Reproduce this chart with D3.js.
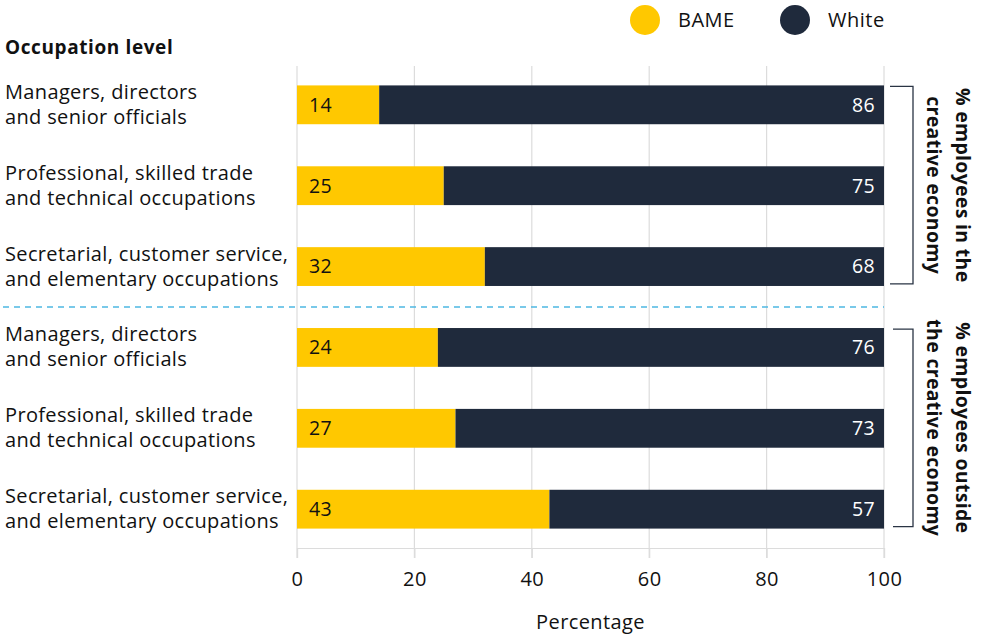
<!DOCTYPE html>
<html>
<head>
<meta charset="utf-8">
<script src="https://cdn.jsdelivr.net/npm/d3@7/dist/d3.min.js"></script>
<style>
  html, body { margin: 0; padding: 0; background: #fff; }
  svg text { font-family: "Open Sans", Lato, sans-serif; }
</style>
</head>
<body>
<svg id="chart" width="985" height="635"></svg>
<script>
// Occupation levels (two groups of three), with line-broken labels
const categories = [
  ["Managers, directors", "and senior officials"],
  ["Professional, skilled trade", "and technical occupations"],
  ["Secretarial, customer service,", "and elementary occupations"],
  ["Managers, directors", "and senior officials"],
  ["Professional, skilled trade", "and technical occupations"],
  ["Secretarial, customer service,", "and elementary occupations"]
];
const bameValues  = [14, 25, 32, 24, 27, 43];
const whiteValues = [86, 75, 68, 76, 73, 57];
const xTicks = [0, 20, 40, 60, 80, 100];
const seriesNames = ["BAME", "White"];
const groupLabels = [
  ["% employees in the", "creative economy"],
  ["% employees outside", "the creative economy"]
];

const FONT = "'Open Sans', Lato, sans-serif";
const colors = { BAME: "#FFC800", White: "#1F2A3C" };
const svg = d3.select("#chart");

const margin = { left: 297, right: 101, top: 66, bottom: 87 };
const W = 985, H = 635;
const x = d3.scaleLinear().domain([0, 100]).range([margin.left, W - margin.right]);
const y = d3.scaleBand().domain(d3.range(categories.length))
  .range([margin.top, H - margin.bottom]).paddingInner(0.52).paddingOuter(0.24);

// vertical gridlines
svg.append("g").selectAll("line").data(xTicks).join("line")
  .attr("x1", d => x(d)).attr("x2", d => x(d))
  .attr("y1", margin.top).attr("y2", H - margin.bottom + 10)
  .attr("stroke", "#dcdcdc").attr("stroke-width", 1.2);

// bottom axis
const xAxis = svg.append("g")
  .attr("transform", `translate(0,${H - margin.bottom})`)
  .call(d3.axisBottom(x).tickValues(xTicks).tickSize(10).tickPadding(14));
xAxis.select(".domain").attr("stroke", "#dcdcdc").attr("stroke-width", 1.2);
xAxis.selectAll(".tick line").attr("stroke", "#dcdcdc").attr("stroke-width", 1.2);
xAxis.selectAll(".tick text").attr("font-size", 20).attr("fill", "#111")
  .attr("font-family", FONT).attr("letter-spacing", 0.4);

svg.append("text").attr("x", x(50)).attr("y", 629).attr("text-anchor", "middle")
  .attr("font-size", 20).attr("letter-spacing", 0.4).attr("fill", "#111").text("Percentage");

// stacked bars
const rows = categories.map((c, i) => ({ i, bame: bameValues[i], white: whiteValues[i] }));
const bars = svg.append("g");
bars.selectAll("rect.bame").data(rows).join("rect").attr("class", "bame")
  .attr("x", x(0)).attr("y", d => y(d.i))
  .attr("width", d => x(d.bame) - x(0)).attr("height", y.bandwidth())
  .attr("fill", colors.BAME);
bars.selectAll("rect.white").data(rows).join("rect").attr("class", "white")
  .attr("x", d => x(d.bame)).attr("y", d => y(d.i))
  .attr("width", d => x(d.bame + d.white) - x(d.bame)).attr("height", y.bandwidth())
  .attr("fill", colors.White);

// value labels
bars.selectAll("text.bv").data(rows).join("text").attr("class", "bv")
  .attr("x", x(0) + 12).attr("y", d => y(d.i) + y.bandwidth() / 2)
  .attr("dy", "0.35em").attr("font-size", 19.5).attr("letter-spacing", 0.3).attr("fill", "#111")
  .text(d => d.bame);
bars.selectAll("text.wv").data(rows).join("text").attr("class", "wv")
  .attr("x", d => x(d.bame + d.white) - 9).attr("y", d => y(d.i) + y.bandwidth() / 2)
  .attr("dy", "0.35em").attr("text-anchor", "end").attr("font-size", 19.5)
  .attr("letter-spacing", 0.3).attr("fill", "#fff")
  .text(d => d.white);

// category labels
const catG = svg.append("g");
categories.forEach((lines, i) => {
  const cy = y(i) + y.bandwidth() / 2;
  const t = catG.append("text").attr("x", 5).attr("font-size", 20)
    .attr("letter-spacing", 0.35).attr("fill", "#111");
  lines.forEach((ln, k) => {
    t.append("tspan").attr("x", 5).attr("y", cy - 6 + k * 25).text(ln);
  });
});

svg.append("text").attr("x", 5).attr("y", 54).attr("font-size", 19)
  .attr("letter-spacing", 0.6).attr("font-weight", "bold").attr("fill", "#111")
  .text("Occupation level");

// group divider
const divY = (y(2) + y.bandwidth() + y(3)) / 2;
svg.append("line").attr("x1", 3).attr("x2", x(100))
  .attr("y1", divY).attr("y2", divY)
  .attr("stroke", "#4DB8E2").attr("stroke-width", 1.5).attr("stroke-dasharray", "6,5");

// group brackets and rotated labels
[[0, 2], [3, 5]].forEach(([a, b], g) => {
  const top = y(a) + 1, bot = y(b) + y.bandwidth() - 2;
  const bx = 913, lx = g === 0 ? 890 : 893;
  svg.append("path")
    .attr("d", `M${lx},${top} H${bx} V${bot} H${lx}`)
    .attr("fill", "none").attr("stroke", "#2a3444").attr("stroke-width", 1.3);
  const cy = (top + bot) / 2;
  const t = svg.append("text")
    .attr("transform", `translate(948,${cy}) rotate(90)`)
    .attr("text-anchor", "middle").attr("font-size", 19.5).attr("letter-spacing", 0.3)
    .attr("font-weight", "bold").attr("fill", "#111");
  groupLabels[g].forEach((ln, k) => {
    t.append("tspan").attr("x", 0).attr("y", k === 0 ? -8 : 21).text(ln);
  });
});

// legend
const legend = svg.append("g");
seriesNames.forEach((s, i) => {
  const cx = 645 + i * 150;
  legend.append("circle").attr("cx", cx).attr("cy", 20).attr("r", 15).attr("fill", colors[s]);
  legend.append("text").attr("x", cx + 33).attr("y", 20).attr("dy", "0.35em")
    .attr("font-size", 20).attr("letter-spacing", 0.5).attr("fill", "#111").text(s);
});
</script>
</body>
</html>
